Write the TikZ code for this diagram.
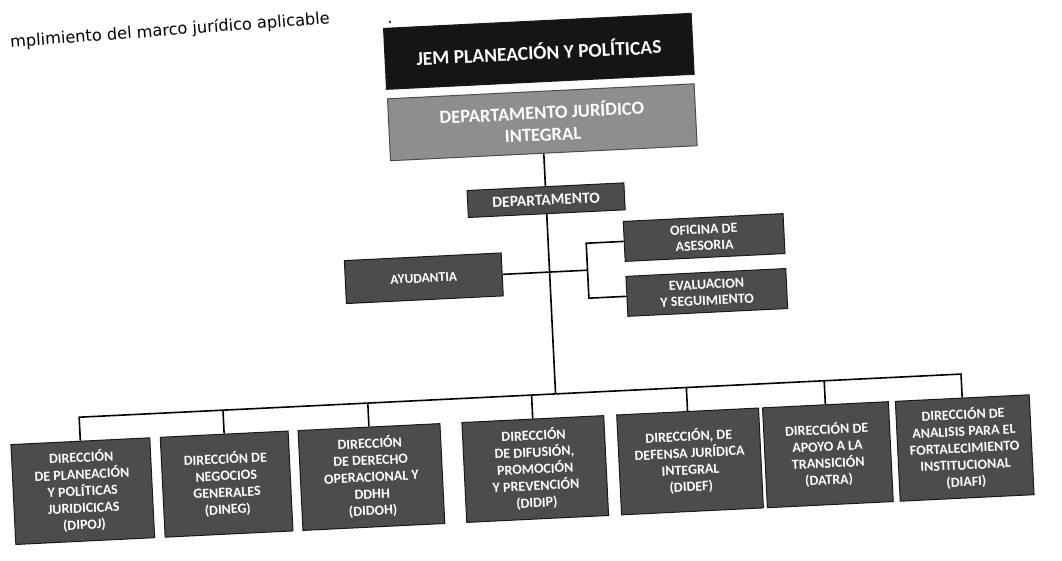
\documentclass[tikz,border=0pt]{standalone}
\usepackage{fontspec}
\setmainfont{Carlito}
\newfontfamily\hdrfont{DejaVu Sans}
\definecolor{jemfill}{HTML}{151515}
\definecolor{djifill}{HTML}{8E8E8E}
\definecolor{boxfill}{HTML}{4C4C4C}
\tikzset{
  orgbox/.style={draw=black!90, line width=1pt, fill=boxfill, text=white,
    font=\bfseries\fontsize{14}{16.8}\selectfont, align=center, inner sep=0pt},
  jembox/.style={orgbox, fill=jemfill, font=\bfseries\fontsize{19.5}{22}\selectfont},
  djibox/.style={orgbox, fill=djifill, draw=black!70, font=\bfseries\fontsize{18.5}{22}\selectfont},
  link/.style={draw=black, line width=1.6pt},
  hdr/.style={font=\hdrfont\fontsize{16.2}{18}\selectfont, inner sep=0pt}
}
\begin{document}
\begin{tikzpicture}[x=1pt,y=-1pt]
\useasboundingbox (0,0) rectangle (1062,560);
\begin{scope}[rotate around={2.8:(531,280)}, transform shape]
  \node[hdr, anchor=base east, rotate=1.5] (hdr) at (343,14) {mplimiento del marco jurídico aplicable};
  \node[hdr, anchor=base] (dot) at (403,17) {.};
  \node[jembox, minimum width=308, minimum height=61] (jem) at (550,52) {JEM PLANEACIÓN Y POLÍTICAS};
  \node[djibox, minimum width=307, minimum height=62] (dji) at (550,123) {DEPARTAMENTO JURÍDICO\\INTEGRAL};
  \node[orgbox, minimum width=157, minimum height=27, font=\bfseries\fontsize{15.5}{17}\selectfont] (dep) at (550,201) {DEPARTAMENTO};
  \node[orgbox, minimum width=157, minimum height=43, font=\bfseries\fontsize{13.5}{15}\selectfont] (ayu) at (424,273) {AYUDANTIA};
  \node[orgbox, minimum width=160, minimum height=40, font=\bfseries\fontsize{14}{16}\selectfont] (ofi) at (706,246) {OFICINA DE\\ASESORIA};
  \node[orgbox, minimum width=160, minimum height=40, font=\bfseries\fontsize{14}{16}\selectfont] (eva) at (706,301) {EVALUACION\\Y SEGUIMIENTO};
  \node[orgbox, minimum width=139, minimum height=100] (b1) at (73,469) {DIRECCIÓN\\DE PLANEACIÓN\\Y POLÍTICAS\\JURIDICICAS\\(DIPOJ)};
  \node[orgbox, minimum width=128, minimum height=100] (b2) at (217,469) {DIRECCIÓN DE\\NEGOCIOS\\GENERALES\\(DINEG)};
  \node[orgbox, minimum width=142, minimum height=100] (b3) at (362,469) {DIRECCIÓN\\DE DERECHO\\OPERACIONAL Y\\DDHH\\(DIDOH)};
  \node[orgbox, minimum width=142, minimum height=100] (b4) at (526,469) {DIRECCIÓN\\DE DIFUSIÓN,\\PROMOCIÓN\\Y PREVENCIÓN\\(DIDIP)};
  \node[orgbox, minimum width=142, minimum height=100] (b5) at (681,469) {DIRECCIÓN, DE\\DEFENSA JURÍDICA\\INTEGRAL\\(DIDEF)};
  \node[orgbox, minimum width=126, minimum height=100] (b6) at (819,469) {DIRECCIÓN DE\\APOYO A LA\\TRANSICIÓN\\(DATRA)};
  \node[orgbox, minimum width=134, minimum height=100] (b7) at (956,469) {DIRECCIÓN DE\\ANALISIS PARA EL\\FORTALECIMIENTO\\INSTITUCIONAL\\(DIAFI)};
  \coordinate (bus) at (550,395);
  \coordinate (brk) at (588,273);
  \draw[link] (dji.south) -- (dep.north);
  \draw[link] (dep.south) -- (bus);
  \draw[link] (ayu.east) -- (brk);
  \draw[link] (ofi.west) -| (brk) |- (eva.west);
  \draw[link] (b1.north) -- (b1.north |- bus) -- (b7.north |- bus) -- (b7.north);
  \foreach \b in {b2,b3,b4,b5,b6} {\draw[link] (\b.north) -- (\b.north |- bus);}
\end{scope}
\end{tikzpicture}
\end{document}
